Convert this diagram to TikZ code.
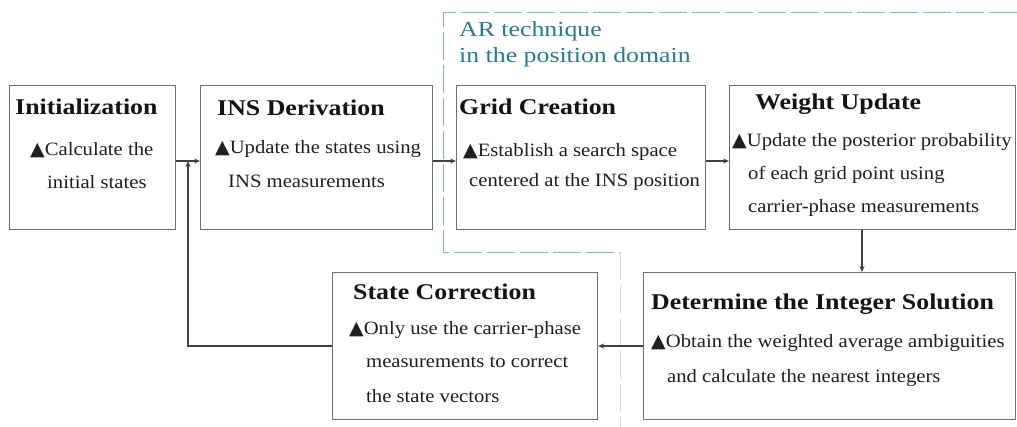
\documentclass[tikz,border=0pt]{standalone}
\usepackage{fontspec}
\setmainfont{Liberation Serif}[FakeStretch=1.1]
\newfontfamily\ttlfont{Liberation Serif}[FakeStretch=1.15]
\newfontfamily\arfont{Liberation Serif}[FakeStretch=1.2]
\newfontfamily\symfont{DejaVu Sans}
\usetikzlibrary{arrows.meta}
\definecolor{boxgray}{HTML}{6E6E6E}
\definecolor{regc}{HTML}{86B3C3}
\definecolor{artext}{HTML}{2B7A8C}
\newcommand{\tri}{{\symfont\fontsize{19}{19}\selectfont ▲}}
\tikzset{
  box/.style={draw=boxgray, line width=1.1pt, fill=white, inner sep=0pt, anchor=north west},
  ttl/.style={anchor=base west, inner sep=0pt, font=\ttlfont\bfseries\fontsize{22.5}{22.5}\selectfont, text=black!92},
  bd/.style={anchor=base west, inner sep=0pt, font=\fontsize{18.8}{18.8}\selectfont, text=black!88},
  artx/.style={anchor=base west, inner sep=0pt, font=\arfont\fontsize{21.5}{21.5}\selectfont, text=artext},
  arr/.style={draw=black!75, line width=1.1pt, -{Stealth[length=6pt,width=5pt]}},
  region/.style={draw=regc, line width=0.9pt, dash pattern=on 28pt off 5pt},
}
\begin{document}
\begin{tikzpicture}[x=1pt,y=-1pt]
\useasboundingbox (0,0) rectangle (1017,427);
% region of the AR technique
\coordinate (r1) at (1017,12);
\coordinate (r2) at (443,12);
\coordinate (r3) at (443,252);
\coordinate (r4) at (620,252);
\coordinate (r5) at (620,427);
\draw[region] (r1) -- (r2) -- (r3) -- (r4);
\draw[region, draw=regc!45] (r4) -- (r5);
\node[artx] (ar-1) at (459,37) {AR technique};
\node[artx] (ar-2) at (459,63) {in the position domain};
% boxes
\node[box, minimum width=166pt, minimum height=144pt] (init) at (9,85) {};
\node[box, minimum width=232pt, minimum height=144pt] (ins) at (200,85) {};
\node[box, minimum width=249pt, minimum height=144pt] (grid) at (456,85) {};
\node[box, minimum width=286pt, minimum height=144pt] (weight) at (729,85) {};
\node[box, minimum width=265pt, minimum height=147pt] (state) at (332,272) {};
\node[box, minimum width=372pt, minimum height=147pt] (det) at (643,272) {};
% texts
\node[ttl] (init-t) at (15,115) {Initialization};
\node[bd] (init-1) at (30,156) {\tri Calculate the};
\node[bd] (init-2) at (47,189) {initial states};
\node[ttl] (ins-t) at (217,116) {INS Derivation};
\node[bd] (ins-1) at (215,154) {\tri Update the states using};
\node[bd] (ins-2) at (228,188) {INS measurements};
\node[ttl] (grid-t) at (459,115) {Grid Creation};
\node[bd] (grid-1) at (463,157) {\tri Establish a search space};
\node[bd] (grid-2) at (469,187) {centered at the INS position};
\node[ttl] (wt-t) at (755,110) {Weight Update};
\node[bd] (wt-1) at (732,147) {\tri Update the posterior probability};
\node[bd] (wt-2) at (748,180) {of each grid point using};
\node[bd] (wt-3) at (748,213) {carrier-phase measurements};
\node[ttl] (st-t) at (353,300) {State Correction};
\node[bd] (st-1) at (349,335) {\tri Only use the carrier-phase};
\node[bd] (st-2) at (366,367) {measurements to correct};
\node[bd] (st-3) at (366,402) {the state vectors};
\node[ttl] (det-t) at (651,310) {Determine the Integer Solution};
\node[bd] (det-1) at (651,348) {\tri Obtain the weighted average ambiguities};
\node[bd] (det-2) at (667,382) {and calculate the nearest integers};
% connectors
\coordinate (join) at (188,161);
\coordinate (dx) at (862,0);
\draw[arr] (init.east |- join) -- (ins.west |- join);
\draw[arr] (ins.east |- join) -- (grid.west |- join);
\draw[arr] (grid.east |- join) -- (weight.west |- join);
\draw[arr] (weight.south -| dx) -- (det.north -| dx);
\draw[arr] (det.west) -- (state.east);
\draw[arr] (state.west) -| (join);
\end{tikzpicture}
\end{document}
